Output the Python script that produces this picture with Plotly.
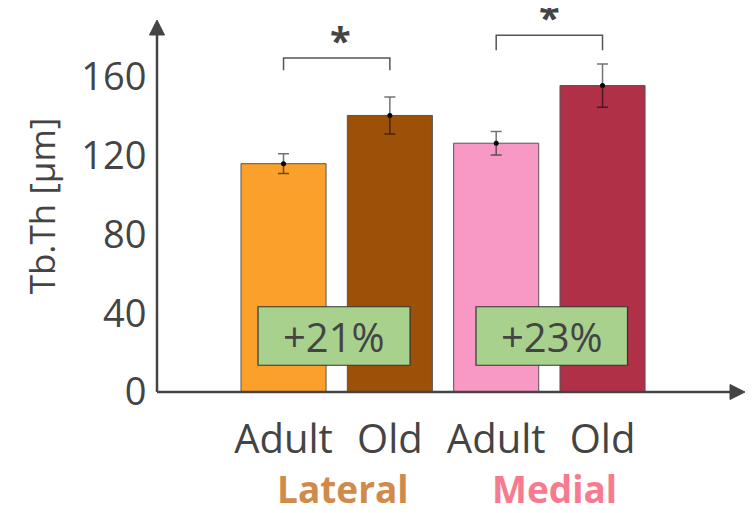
import plotly.graph_objects as go

# ---- data ----
tick_labels = ["Adult", "Old", "Adult", "Old"]
positions = [0, 1, 2, 3]
means = [116, 140.5, 126.4, 155.7]
errors = [5, 9.4, 6, 11]
bar_colors = ["#FBA02A", "#9C5008", "#F899C5", "#B03048"]
groups = ["Lateral", "Medial"]
group_colors = ["#D08A4A", "#F87A8E"]
group_centers = [0.56, 2.55]
changes = ["+21%", "+23%"]
box_x = [(-0.24, 1.19), (1.81, 3.235)]
box_y = (13.6, 43.3)
bracket_x = [(0, 1), (2, 3)]
bracket_top = [169.7, 181.2]
bracket_bottom = [163.5, 173.6]
star_x = [0.54, 2.5]
y_ticks = [0, 40, 80, 120, 160]

XMIN, XMAX = -1.19, 4.34
YMAX = 189
FONT = "Open Sans"
TXT = "#444444"
AX = "#444444"

fig = go.Figure()
fig.add_trace(go.Bar(
    x=positions, y=means, width=0.8,
    marker=dict(color=bar_colors, line=dict(color="#555555", width=1)),
    error_y=dict(type="data", array=errors, visible=True,
                 color="rgba(0,0,0,0.55)", thickness=1.5, width=5.5),
    showlegend=False, hoverinfo="skip",
))
fig.add_trace(go.Scatter(
    x=positions, y=means, mode="markers",
    marker=dict(color="black", size=5), showlegend=False, hoverinfo="skip",
))

shapes = []
annotations = []
# axes lines + arrow heads (paper refs so they are not clipped)
shapes.append(dict(type="line", xref="paper", yref="paper", x0=0, y0=0, x1=0, y1=0.97,
                   line=dict(color=AX, width=2.5)))
shapes.append(dict(type="line", xref="paper", yref="paper", x0=0, y0=0, x1=0.99, y1=0,
                   line=dict(color=AX, width=2.5)))
shapes.append(dict(type="path", xref="paper", yref="paper", xsizemode="pixel",
                   ysizemode="pixel", xanchor=0, yanchor=1,
                   path="M -7.5,-15 L 7.5,-15 L 0,0 Z",
                   fillcolor=AX, line=dict(color=AX, width=1)))
shapes.append(dict(type="path", xref="paper", yref="paper", xsizemode="pixel",
                   ysizemode="pixel", xanchor=1, yanchor=0,
                   path="M -15,-7.5 L -15,7.5 L 0,0 Z",
                   fillcolor=AX, line=dict(color=AX, width=1)))
# brackets + stars
for (x0, x1), yt, yb, sx in zip(bracket_x, bracket_top, bracket_bottom, star_x):
    shapes.append(dict(type="path", xref="x", yref="y",
                       path=f"M {x0},{yb} L {x0},{yt} L {x1},{yt} L {x1},{yb}",
                       line=dict(color="#555555", width=1.5)))
    annotations.append(dict(x=sx, y=yt, xref="x", yref="y", borderpad=0,
                            text="<b>*</b>", showarrow=False, yanchor="middle",
                            yshift=18, font=dict(family=FONT, size=38, color=TXT)))
# percent boxes
for (x0, x1), txt in zip(box_x, changes):
    shapes.append(dict(type="rect", xref="x", yref="y", x0=x0, x1=x1,
                       y0=box_y[0], y1=box_y[1], fillcolor="#A9D18E",
                       line=dict(color="#333333", width=1.2)))
    annotations.append(dict(x=(x0 + x1) / 2, y=(box_y[0] + box_y[1]) / 2,
                            xref="x", yref="y", text=txt, showarrow=False,
                            font=dict(family=FONT, size=40, color=TXT)))
# group labels
for g, c, xc in zip(groups, group_colors, group_centers):
    annotations.append(dict(x=xc, y=0, xref="x", yref="y", text=f"<b>{g}</b>",
                            showarrow=False, yshift=-96, borderpad=0,
                            font=dict(family=FONT, size=37, color=c)))

fig.update_layout(
    width=748, height=505,
    margin=dict(l=149, r=11, t=12, b=121),
    plot_bgcolor="white", paper_bgcolor="white",
    font=dict(family=FONT, color=TXT),
    shapes=shapes, annotations=annotations,
    xaxis=dict(range=[XMIN, XMAX], tickvals=positions, ticktext=tick_labels,
               showline=False, showgrid=False, zeroline=False, automargin=False,
               ticks="outside", ticklen=12, tickcolor="rgba(0,0,0,0)",
               tickfont=dict(family=FONT, size=40, color=TXT)),
    yaxis=dict(range=[0, YMAX], tickvals=y_ticks, showline=False, showgrid=False,
               zeroline=False, automargin=False, ticks="outside", ticklen=2,
               tickcolor="rgba(0,0,0,0)",
               tickfont=dict(family=FONT, size=38, color=TXT),
               title=dict(text="Tb.Th [μm]", standoff=14,
                          font=dict(family=FONT, size=35, color=TXT))),
    bargap=0.2,
)
fig.write_html("out.html")
